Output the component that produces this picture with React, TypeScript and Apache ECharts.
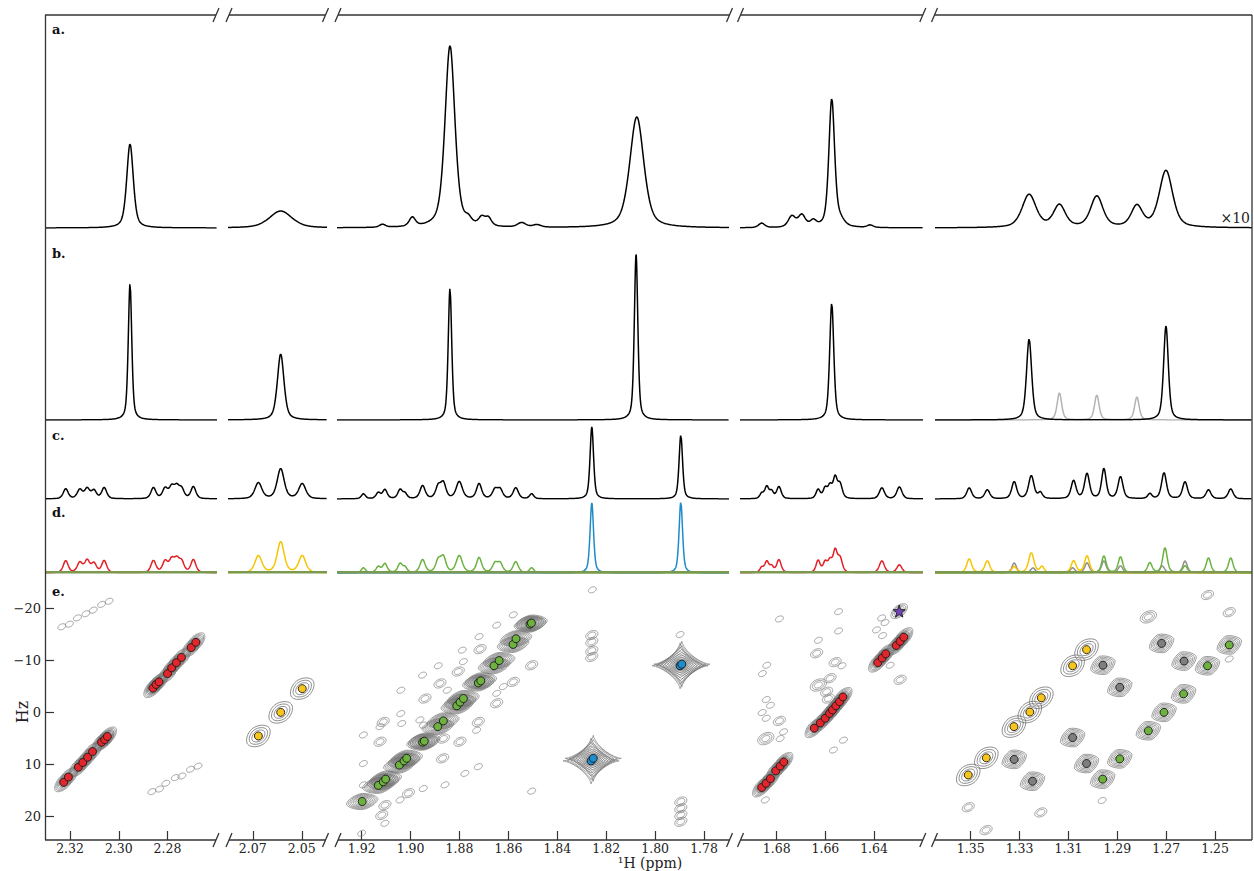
import React, { useEffect, useRef } from "react";
import * as echarts from "echarts";

// ---------------- tick labels ----------------
const X_TICKS_1 = [2.32, 2.3, 2.28];
const X_TICKS_2 = [2.07, 2.05];
const X_TICKS_3 = [1.92, 1.9, 1.88, 1.86, 1.84, 1.82, 1.8, 1.78];
const X_TICKS_4 = [1.68, 1.66, 1.64];
const X_TICKS_5 = [1.35, 1.33, 1.31, 1.29, 1.27, 1.25];
const X_TICKS = [X_TICKS_1, X_TICKS_2, X_TICKS_3, X_TICKS_4, X_TICKS_5];
const HZ_TICKS = [-20, -10, 0, 10, 20];

// ppm windows of the broken axis (left edge, right edge)
const SEG_PPM = [
  [2.3303, 2.2597],
  [2.0801, 2.0397],
  [1.9301, 1.7698],
  [1.6951, 1.6199],
  [1.3646, 1.2349],
];
const HZ_MIN = -26.35;
const HZ_MAX = 24.6;

// ---------------- 1D spectra: [ppm, intensity (a.u.), FWHM (ppm)] ----------------
const SPEC_A = [
  [2.2954, 84, 0.0032],
  [2.0586, 17, 0.011],
  [1.9115, 3, 0.003],
  [1.8993, 9, 0.003],
  [1.8839, 182, 0.0048],
  [1.8764, 5, 0.003],
  [1.8709, 8, 0.003],
  [1.8682, 8, 0.003],
  [1.8546, 4.5, 0.004],
  [1.8484, 2.5, 0.004],
  [1.8075, 111, 0.0068],
  [1.6862, 4.5, 0.003],
  [1.6738, 11, 0.0035],
  [1.6697, 12, 0.0035],
  [1.665, 6, 0.003],
  [1.6574, 128, 0.0028],
  [1.654, 6, 0.004],
  [1.6416, 2.5, 0.003],
  [1.3261, 33, 0.0068],
  [1.3137, 22, 0.0058],
  [1.2984, 31, 0.006],
  [1.282, 21, 0.0055],
  [1.2701, 57, 0.0065],
];

const PEAK_NAMES = ["(A)", "(B)", "(C)", "(D)", "(E)", "(F)", "(G)"];
const SPEC_B = [
  [2.2954, 137, 0.0017],
  [2.0586, 66, 0.0032],
  [1.8839, 132, 0.0017],
  [1.8078, 166, 0.0017],
  [1.6574, 117, 0.002],
  [1.3261, 81, 0.0025],
  [1.2701, 94, 0.0023],
];
const SPEC_B_GRAY = [
  [1.3137, 27, 0.0022],
  [1.2984, 25, 0.0022],
  [1.282, 23, 0.0022],
];

const SPEC_C = [
  [2.3218, 10, 0.0024], [2.316, 9, 0.0025], [2.313, 10, 0.0025], [2.3102, 8, 0.0024], [2.306, 11, 0.0024],
  [2.2858, 11, 0.0024], [2.281, 10, 0.0025], [2.2783, 11, 0.0025], [2.2762, 11, 0.0025], [2.2742, 9, 0.0024], [2.2694, 12, 0.0024],
  [2.0677, 16, 0.0034], [2.0586, 30, 0.0034], [2.0498, 15, 0.0034],
  [1.9193, 5, 0.002], [1.9132, 6, 0.0022], [1.9105, 9, 0.0022], [1.9043, 9, 0.0022], [1.9023, 5, 0.002],
  [1.8951, 13, 0.0025], [1.8887, 12, 0.0025], [1.8866, 15, 0.0025], [1.8801, 17, 0.003], [1.872, 15, 0.0025],
  [1.8655, 9, 0.0025], [1.8634, 9, 0.0025], [1.857, 11, 0.0025], [1.8505, 5, 0.002],
  [1.8259, 72, 0.0017], [1.7895, 64, 0.0017],
  [1.6862, 5, 0.0018], [1.6841, 12, 0.002], [1.6821, 7, 0.0018], [1.6791, 12, 0.0022],
  [1.663, 9, 0.002], [1.6601, 10, 0.002], [1.6581, 12, 0.002], [1.656, 20, 0.002], [1.654, 14, 0.0022],
  [1.6368, 11, 0.0025], [1.6296, 12, 0.0025],
  [1.3506, 11, 0.0024], [1.3432, 9, 0.0024], [1.3322, 17, 0.0024], [1.3252, 23, 0.0026], [1.3215, 6, 0.002],
  [1.3079, 18, 0.0024], [1.3024, 25, 0.0024], [1.2955, 30, 0.0022], [1.2887, 22, 0.0024], [1.2767, 5, 0.002],
  [1.2709, 26, 0.0024], [1.2623, 17, 0.0024], [1.2527, 9, 0.0024], [1.2436, 10, 0.0024],
];

const SPEC_D_RED = [
  [2.3218, 12, 0.0024], [2.316, 10, 0.0025], [2.313, 12, 0.0025], [2.3102, 9, 0.0024], [2.306, 12, 0.0024],
  [2.2858, 12, 0.0024], [2.281, 11, 0.0025], [2.2783, 12, 0.0025], [2.2762, 12, 0.0025], [2.2742, 10, 0.0024], [2.2694, 13, 0.0024],
  [1.6862, 5, 0.0018], [1.6841, 11, 0.002], [1.6821, 6, 0.0018], [1.6791, 13, 0.0022],
  [1.663, 12, 0.002], [1.6601, 10, 0.002], [1.6581, 11, 0.002], [1.656, 21, 0.002], [1.654, 14, 0.0022],
  [1.6368, 12, 0.0025], [1.6296, 8, 0.0025],
];
const SPEC_D_YELLOW = [
  [2.0677, 17, 0.0034], [2.0586, 31, 0.0034], [2.0498, 17, 0.0034],
  [1.3506, 14, 0.0024], [1.3432, 12, 0.0024], [1.3322, 6, 0.0024], [1.3252, 20, 0.0026], [1.3208, 6, 0.002],
  [1.3079, 12, 0.0024], [1.3024, 17, 0.0024],
];
const SPEC_D_GREEN = [
  [1.9193, 5, 0.002], [1.9132, 6, 0.0022], [1.9105, 9, 0.0022], [1.9043, 9, 0.0022], [1.9023, 5, 0.002],
  [1.8951, 13, 0.0025], [1.8887, 12, 0.0025], [1.8866, 15, 0.0025], [1.8801, 17, 0.003], [1.872, 15, 0.0025],
  [1.8655, 9, 0.0025], [1.8634, 9, 0.0025], [1.857, 11, 0.0025], [1.8505, 5, 0.002],
  [1.2955, 17, 0.0022], [1.2887, 16, 0.0022], [1.2767, 10, 0.0022], [1.2705, 25, 0.0022],
  [1.2623, 7, 0.0022], [1.2527, 15, 0.0022], [1.2436, 15, 0.0022],
];
const SPEC_D_BLUE = [
  [1.8259, 70, 0.0017],
  [1.7895, 71, 0.0017],
];
const SPEC_D_GRAY = [
  [1.3322, 10, 0.0022], [1.3245, 5, 0.0022], [1.3083, 5, 0.0022], [1.3024, 10, 0.0022],
  [1.2955, 12, 0.0022], [1.2887, 7, 0.0022], [1.2716, 7, 0.0022], [1.2623, 12, 0.0022],
];

// ---------------- 2D peaks: [ppm, Hz] ----------------
const RED_2D = [
  [2.3226, 13.5], [2.3207, 12.5], [2.3166, 10.6], [2.3148, 9.7], [2.3128, 8.7], [2.3108, 7.6], [2.3071, 5.8], [2.3058, 5.3], [2.3047, 4.7],
  [2.286, -4.6], [2.2847, -5.3], [2.2835, -5.8], [2.28, -7.4], [2.2783, -8.5], [2.2764, -9.5], [2.2743, -10.5], [2.2703, -12.4], [2.2684, -13.4],
  [1.6862, 14.5], [1.6844, 13.7], [1.6826, 12.8], [1.6804, 11.3], [1.6786, 10.4], [1.6771, 9.6],
  [1.6646, 3.1], [1.6621, 2.1], [1.6601, 1.2], [1.6583, 0.25], [1.6571, -0.4], [1.6557, -1.2], [1.6542, -2.0], [1.6528, -2.9],
  [1.6385, -9.5], [1.6367, -10.4], [1.6352, -11.2], [1.6309, -12.8], [1.6293, -13.6], [1.6278, -14.4],
];
const YELLOW_2D = [
  [2.0677, 4.6], [2.0586, 0.06], [2.0498, -4.5],
  [1.3026, -12.0], [1.3083, -8.9], [1.3211, -2.75], [1.3258, 0], [1.3323, 2.8], [1.3436, 8.8], [1.351, 12.1],
];
const GREEN_2D = [
  [1.9198, 17.2], [1.9132, 14.1], [1.9112, 13.4], [1.9102, 12.9], [1.9046, 10.2], [1.9027, 9.4], [1.9016, 8.9],
  [1.8951, 5.8], [1.8944, 5.6], [1.8889, 2.8], [1.8866, 1.7], [1.8811, -1.2], [1.8798, -1.9], [1.8784, -2.6],
  [1.8723, -5.6], [1.8713, -6.0], [1.8659, -8.9], [1.8638, -9.9], [1.8581, -13.0], [1.8569, -14.1], [1.8512, -16.9], [1.8506, -17.1],
  [1.2442, -12.9], [1.2531, -8.9], [1.2629, -3.5], [1.2709, 0.06], [1.2773, 3.6], [1.289, 9.0], [1.296, 12.9],
];
const BLUE_2D = [
  [1.7898, -8.9], [1.7891, -9.2], [1.8262, 9.4], [1.8253, 8.9],
];
const GRAY_2D = [
  [1.2719, -13.2], [1.2959, -9.0], [1.2627, -9.8], [1.289, -4.75], [1.3083, 4.9], [1.3322, 9.1], [1.3026, 9.9], [1.3247, 13.3],
];
const STAR_2D = [[1.6297, -19.4]];

// weak contours: [ppm, Hz, contour levels]
const FAINT_2D = [
  [2.3234, -16.4, 1], [2.3203, -16.9, 1], [2.317, -18.1, 1], [2.3135, -18.9, 1], [2.3105, -19.6, 1], [2.3071, -20.7, 1], [2.304, -21.3, 1],
  [2.2864, 15.3, 1], [2.2833, 14.8, 1], [2.2807, 13.7, 1], [2.2768, 12.6, 1], [2.2741, 12.3, 1], [2.2706, 11.0, 1], [2.2675, 10.4, 1],
  [1.8257, -23.5, 1], [1.8259, -14.8, 2], [1.8259, -13.5, 2], [1.8259, -11.8, 2], [1.8259, -10.6, 2], [1.7898, -14.9, 1],
  [1.7895, 17.2, 2], [1.7895, 18.5, 2], [1.7895, 19.8, 2], [1.7895, 21.1, 2], [1.8505, 15.2, 1],
  [1.8648, -16.7, 1], [1.858, -18.7, 1], [1.872, -14.5, 1], [1.8716, -12.1, 2], [1.8784, -9.7, 1], [1.8789, -11.9, 1],
  [1.8887, -8.9, 1], [1.8951, -7.1, 1], [1.8805, -7.8, 2], [1.888, -5.5, 2], [1.885, -4.2, 1], [1.904, -4.2, 1],
  [1.8941, -2.6, 2], [1.9112, 1.9, 2], [1.9036, 2.2, 1], [1.9125, 5.7, 2], [1.8948, 2.5, 1], [1.8866, 5.1, 2],
  [1.8869, 8.9, 2], [1.8798, 5.7, 2], [1.8723, 1.9, 2], [1.873, 3.5, 1], [1.8648, -1.7, 2], [1.8648, -3.6, 1],
  [1.858, -5.8, 2], [1.8621, -4.9, 1], [1.8505, -9.0, 2], [1.8723, 10.5, 1], [1.8778, 11.8, 1], [1.8859, 14.0, 1],
  [1.8948, 14.7, 1], [1.9009, 15.6, 2], [1.9043, 16.9, 1], [1.9105, 17.9, 2], [1.9118, 19.8, 2], [1.9105, 21.4, 1],
  [1.9193, 14.0, 1], [1.9193, 9.9, 1], [1.9193, 4.4, 1], [1.9125, 2.8, 1], [1.92, 23.3, 1], [1.904, 0.3, 1], [1.8962, 1.5, 1],
  [1.6845, 5.1, 3], [1.6841, -9.0, 1], [1.6859, -7.4, 1], [1.6843, -2.4, 1], [1.6826, -1.3, 1], [1.686, 0.1, 1],
  [1.6843, 1.2, 1], [1.6789, 1.7, 2], [1.6772, 3.8, 1], [1.6786, 5.1, 1], [1.6789, -17.9, 1], [1.6629, -13.8, 1],
  [1.6636, -11.3, 2], [1.6629, -5.2, 3], [1.6581, -6.5, 2], [1.656, -9.6, 2], [1.6532, -8.9, 1], [1.6546, -19.3, 1],
  [1.6546, -15.6, 1], [1.6595, -3.9, 2], [1.6588, -2.6, 2], [1.6526, 5.4, 1], [1.6567, 7.3, 1], [1.6369, -18.1, 1],
  [1.6355, -17.2, 1], [1.639, -15.8, 1], [1.6365, -14.7, 1], [1.6293, -6.2, 2], [1.6334, -9.0, 1], [1.6847, 16.9, 1],
  [1.2531, -22.5, 2], [1.2442, -19.2, 2], [1.2773, -18.3, 3], [1.351, 18.3, 2], [1.3437, 22.7, 2], [1.3213, 19.3, 2],
  [1.2962, 17.0, 1], [1.2442, -10.2, 1],
];

// ---------------- layout ----------------
const SEG_PX = [[45, 217], [228, 327], [337, 729], [740, 923], [935, 1252]];
const PANEL_Y = [[16, 228], [228, 420], [420, 499], [499, 573], [575, 840]];
const LINE_SEGS = [[45, 216], [229, 325.5], [338, 729.5], [740.5, 922.8], [934.5, 1252]];
const SLASH_X = [216, 229, 325.5, 338, 729.5, 740.5, 922.8, 934.5];
const FONT = "'DejaVu Serif', 'Liberation Serif', serif";
const AXIS_COLOR = "#333";
const ETA = 0.5;

function pv(peaks: number[][], x: number) {
  let y = 0;
  for (const [c, h, w] of peaks) {
    const d = (x - c) / (w / 2);
    y += h * (ETA / (1 + d * d) + (1 - ETA) * Math.exp(-Math.LN2 * d * d));
  }
  return y;
}

function sample(peaks: number[][], s: number) {
  const [hi, lo] = SEG_PPM[s];
  const n = Math.round((SEG_PX[s][1] - SEG_PX[s][0]) * 2.5);
  const out: number[][] = [];
  for (let i = 0; i <= n; i++) {
    const x = hi - ((hi - lo) * i) / n;
    out.push([x, pv(peaks, x)]);
  }
  return out;
}

function inSeg(ppm: number, s: number) {
  return ppm <= SEG_PPM[s][0] && ppm >= SEG_PPM[s][1];
}

function superEllipse(a: number, b: number, p: number, n = 44) {
  const pts: number[][] = [];
  for (let i = 0; i < n; i++) {
    const t = (2 * Math.PI * i) / n;
    const c = Math.cos(t);
    const s = Math.sin(t);
    pts.push([a * Math.sign(c) * Math.pow(Math.abs(c), 2 / p), b * Math.sign(s) * Math.pow(Math.abs(s), 2 / p)]);
  }
  return pts;
}

type Ring = { a: number; b: number; p: number };
const KINDS: Record<string, { rot: number; rings: (lev: number) => Ring[]; stroke: string; lw: number }> = {
  diag: {
    rot: 47, stroke: "#6a6a6a", lw: 0.6,
    rings: () => Array.from({ length: 6 }, (_, i) => { const t = (i + 1) / 6; return { a: 2 + 10 * t, b: 1.2 + 5 * t, p: 1.8 }; }),
  },
  diagSmall: {
    rot: 40, stroke: "#6a6a6a", lw: 0.6,
    rings: () => Array.from({ length: 4 }, (_, i) => { const t = (i + 1) / 4; return { a: 2 + 8 * t, b: 1.5 + 4 * t, p: 1.8 }; }),
  },
  band: {
    rot: 10, stroke: "#6a6a6a", lw: 0.6,
    rings: () => Array.from({ length: 8 }, (_, i) => { const t = (i + 1) / 8; return { a: 2 + 14 * t, b: 1.5 + 6.5 * t, p: 1.6 }; }),
  },
  cross: {
    rot: 0, stroke: "#6a6a6a", lw: 0.6,
    rings: () => Array.from({ length: 11 }, (_, i) => { const t = (i + 1) / 11; return { a: 3 + 25 * Math.pow(t, 1.8), b: 2 + 21 * Math.pow(t, 2.4), p: 2 - 1.3 * t }; }),
  },
  diamond: {
    rot: 22, stroke: "#6a6a6a", lw: 0.6,
    rings: () => Array.from({ length: 6 }, (_, i) => { const t = (i + 1) / 6; return { a: 2 + 11 * t, b: 1.5 + 8 * t, p: 1.5 }; }),
  },
  open: {
    rot: 38, stroke: "#6a6a6a", lw: 0.7,
    rings: () => Array.from({ length: 3 }, (_, i) => { const t = (i + 1) / 3; return { a: 4.5 + 9 * t, b: 3 + 6.5 * t, p: 1.8 }; }),
  },
  faint: {
    rot: 25, stroke: "#777", lw: 0.6,
    rings: (lev: number) => Array.from({ length: lev }, (_, i) => ({ a: 2 + 2.2 * (i + 1), b: 1.3 + 1.4 * (i + 1), p: 2 })),
  },
};

function contourSeries(idx: number, pts: number[][], kindName: string) {
  const kind = KINDS[kindName];
  return {
    type: "custom",
    xAxisIndex: idx,
    yAxisIndex: idx,
    silent: true,
    clip: true,
    z: 2,
    data: pts,
    renderItem: (_params: any, api: any) => {
      const c = api.coord([api.value(0), api.value(1)]);
      const lev = pts[0].length > 2 ? api.value(2) : 0;
      return {
        type: "group",
        x: c[0],
        y: c[1],
        rotation: (kind.rot * Math.PI) / 180,
        children: kind.rings(lev).map((r) => ({
          type: "polygon",
          shape: { points: superEllipse(r.a, r.b, r.p) },
          style: { fill: "none", stroke: kind.stroke, lineWidth: kind.lw },
        })),
      };
    },
  };
}

function dotSeries(idx: number, pts: number[][], color: string, symbol = "circle", size = 8) {
  return {
    type: "scatter",
    xAxisIndex: idx,
    yAxisIndex: idx,
    silent: true,
    z: 5,
    symbol,
    symbolSize: size,
    data: pts,
    itemStyle: { color, borderColor: "#1a1a1a", borderWidth: 0.9, opacity: 1 },
  };
}

function lineSeries(idx: number, data: number[][], color: string, width = 1.5, z = 3) {
  return {
    type: "line",
    xAxisIndex: idx,
    yAxisIndex: idx,
    data,
    symbol: "none",
    showSymbol: false,
    silent: true,
    clip: true,
    z,
    lineStyle: { color, width },
  };
}

function buildOption() {
  const grid: any[] = [];
  const xAxis: any[] = [];
  const yAxis: any[] = [];
  const series: any[] = [];

  for (let p = 0; p < 5; p++) {
    for (let s = 0; s < 5; s++) {
      const idx = p * 5 + s;
      const h = PANEL_Y[p][1] - PANEL_Y[p][0];
      grid.push({
        left: SEG_PX[s][0],
        top: PANEL_Y[p][0],
        width: SEG_PX[s][1] - SEG_PX[s][0],
        height: h,
        containLabel: false,
        outerBoundsMode: "none",
      });
      const isE = p === 4;
      xAxis.push({
        type: "value",
        gridIndex: idx,
        position: "bottom",
        min: SEG_PPM[s][1],
        max: SEG_PPM[s][0],
        inverse: true,
        show: isE,
        axisLine: { show: false, onZero: false },
        splitLine: { show: false },
        axisTick: {
          show: isE,
          inside: true,
          length: 9,
          customValues: X_TICKS[s],
          lineStyle: { color: AXIS_COLOR, width: 1.2 },
        },
        axisLabel: {
          show: isE,
          customValues: X_TICKS[s],
          formatter: (v: number) => v.toFixed(2),
          margin: 2,
          fontFamily: FONT,
          fontSize: 12.5,
          lineHeight: 13,
          color: "#222",
        },
      });
      if (!isE) {
        yAxis.push({ type: "value", gridIndex: idx, min: 0, max: h, show: false });
      } else {
        yAxis.push({
          type: "value",
          gridIndex: idx,
          position: "left",
          min: HZ_MIN,
          max: HZ_MAX,
          inverse: true,
          show: s === 0,
          axisLine: { show: false, onZero: false },
          splitLine: { show: false },
          axisTick: {
            show: true,
            inside: true,
            length: 9,
            customValues: HZ_TICKS,
            lineStyle: { color: AXIS_COLOR, width: 1.2 },
          },
          axisLabel: {
            show: true,
            customValues: HZ_TICKS,
            formatter: (v: number) => (v < 0 ? "\u2212" + Math.abs(v) : String(v)),
            margin: 4,
            fontFamily: FONT,
            fontSize: 13,
            color: "#222",
          },
        });
      }

      if (p === 0) {
        series.push(lineSeries(idx, sample(SPEC_A, s), "#000", 1.5));
      } else if (p === 1) {
        if (SPEC_B_GRAY.some((q) => inSeg(q[0], s))) series.push(lineSeries(idx, sample(SPEC_B_GRAY, s), "#b3b3b3", 1.5, 2));
        series.push(lineSeries(idx, sample(SPEC_B, s), "#000", 1.5, 3));
        const labels = SPEC_B.map((q, i) => ({ name: PEAK_NAMES[i], value: [q[0], q[1]] })).filter((d) => inSeg(d.value[0], s));
        if (labels.length) {
          series.push({
            type: "scatter",
            xAxisIndex: idx,
            yAxisIndex: idx,
            silent: true,
            symbolSize: 1,
            itemStyle: { opacity: 0 },
            data: labels,
            label: {
              show: true,
              position: "top",
              distance: 10,
              formatter: "{b}",
              fontFamily: FONT,
              fontSize: 15,
              color: "#3a3a3a",
            },
          });
        }
      } else if (p === 2) {
        series.push(lineSeries(idx, sample(SPEC_C, s), "#000", 1.5));
      } else if (p === 3) {
        const colored: [number[][], string][] = [
          [SPEC_D_GRAY, "#8e8e8e"],
          [SPEC_D_YELLOW, "#f5c400"],
          [SPEC_D_GREEN, "#6ab23e"],
          [SPEC_D_BLUE, "#1e8bc9"],
          [SPEC_D_RED, "#e31e24"],
        ];
        colored.forEach(([pk, col], k) => {
          if (pk.some((q) => inSeg(q[0], s))) series.push(lineSeries(idx, sample(pk, s), col, 1.5, 2 + k * 0.1));
        });
        series.push(lineSeries(idx, [[SEG_PPM[s][0], 0.8], [SEG_PPM[s][1], 0.8]], "#7c9a4f", 2.6, 4));
      } else {
        const groups: [number[][], string, string][] = [
          [RED_2D, "diag", "#e3262b"],
          [YELLOW_2D, "open", "#f7c51b"],
          [GREEN_2D, s === 2 ? "band" : "diamond", "#6db23f"],
          [BLUE_2D, "cross", "#1b8fce"],
          [GRAY_2D, "diamond", "#7f7f7f"],
        ];
        const faint = FAINT_2D.filter((q) => inSeg(q[0], s));
        if (faint.length) series.push(contourSeries(idx, faint, "faint"));
        const star = STAR_2D.filter((q) => inSeg(q[0], s));
        if (star.length) series.push(contourSeries(idx, star, "diagSmall"));
        for (const [pts, kind] of groups) {
          const f = pts.filter((q) => inSeg(q[0], s));
          if (f.length) series.push(contourSeries(idx, f, kind));
        }
        for (const [pts, , col] of groups) {
          const f = pts.filter((q) => inSeg(q[0], s));
          if (f.length) series.push(dotSeries(idx, f, col));
        }
        if (star.length)
          series.push(
            dotSeries(
              idx,
              star,
              "#7444c0",
              "path://M0,-10L2.35,-3.24L9.51,-3.09L3.8,1.24L5.88,8.09L0,4L-5.88,8.09L-3.8,1.24L-9.51,-3.09L-2.35,-3.24Z",
              12
            )
          );
      }
    }
  }

  const lineStyle = { stroke: AXIS_COLOR, lineWidth: 1.3 };
  const graphics: any[] = [];
  for (const [x1, x2] of LINE_SEGS) {
    graphics.push({ type: "line", shape: { x1, y1: 15, x2, y2: 15 }, style: lineStyle, z: 20 });
    graphics.push({ type: "line", shape: { x1, y1: 840, x2, y2: 840 }, style: lineStyle, z: 20 });
  }
  for (const x of SLASH_X) {
    for (const y of [15, 840]) {
      graphics.push({ type: "line", shape: { x1: x - 3, y1: y + 7, x2: x + 3, y2: y - 7 }, style: lineStyle, z: 20 });
    }
  }
  graphics.push({ type: "line", shape: { x1: 45.5, y1: 15, x2: 45.5, y2: 840 }, style: lineStyle, z: 20 });
  graphics.push({ type: "line", shape: { x1: 1252, y1: 15, x2: 1252, y2: 840 }, style: lineStyle, z: 20 });

  const panelLabels: [string, number][] = [["a.", 29], ["b.", 253], ["c.", 435], ["d.", 512], ["e.", 591]];
  for (const [t, y] of panelLabels) {
    graphics.push({
      type: "text",
      x: 52,
      y,
      z: 20,
      style: { text: t, font: `bold 13px ${FONT}`, fill: "#111", textAlign: "left", textVerticalAlign: "middle", align: "left", verticalAlign: "middle" },
    });
  }
  graphics.push({
    type: "text",
    x: 1250,
    y: 218,
    z: 20,
    style: { text: "\u00d710", font: `14px ${FONT}`, fill: "#222", textAlign: "right", textVerticalAlign: "middle", align: "right", verticalAlign: "middle" },
  });
  graphics.push({
    type: "text",
    x: 22,
    y: 712,
    rotation: Math.PI / 2,
    z: 20,
    style: { text: "Hz", font: `16px ${FONT}`, fill: "#222", textAlign: "center", textVerticalAlign: "middle", align: "center", verticalAlign: "middle" },
  });
  graphics.push({
    type: "text",
    x: 650,
    y: 863,
    z: 20,
    style: { text: "\u00b9H (ppm)", font: `14px ${FONT}`, fill: "#222", textAlign: "center", textVerticalAlign: "middle", align: "center", verticalAlign: "middle" },
  });

  return {
    animation: false,
    backgroundColor: "#fff",
    grid,
    xAxis,
    yAxis,
    series,
    graphic: { elements: graphics },
  };
}

export default function App() {
  const ref = useRef<HTMLDivElement>(null);
  useEffect(() => {
    const chart = echarts.init(ref.current!, null, { renderer: "svg" });
    chart.setOption(buildOption() as any);
    return () => chart.dispose();
  }, []);
  return (
    <div
      ref={ref}
      style={{ position: "fixed", left: 0, top: 0, width: 1254, height: 871, background: "#fff" }}
    />
  );
}
